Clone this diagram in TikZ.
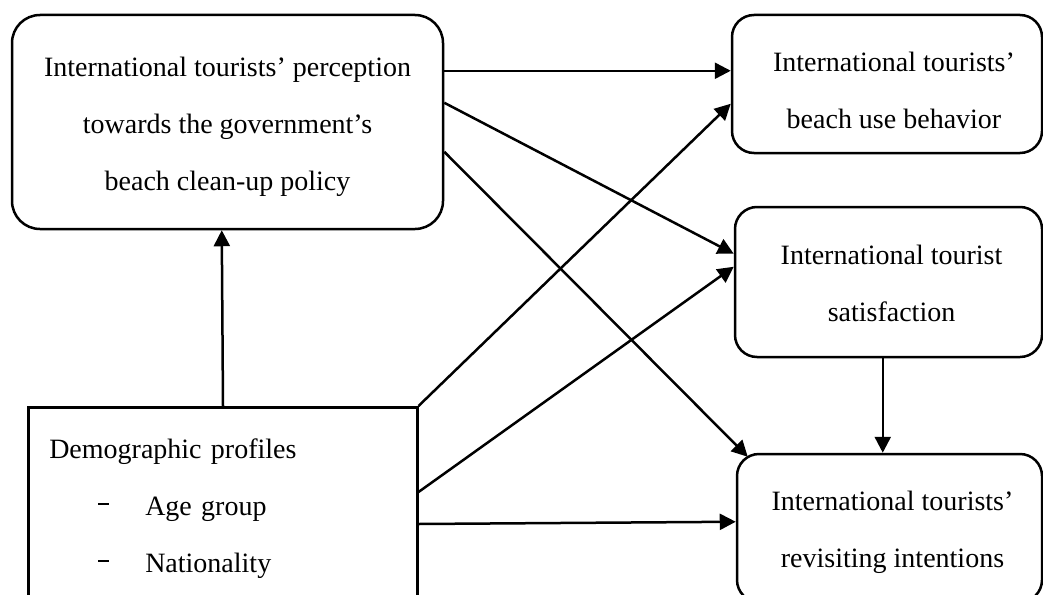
\documentclass[tikz,border=0pt]{standalone}
\usepackage{fontspec}
\setmainfont{Liberation Serif}
\usetikzlibrary{arrows.meta,calc}
\newcommand\stx[1]{\begin{tabular}{@{}c@{}}#1\end{tabular}}
\newcommand\dtx[1]{\begin{tabular}{@{}l@{}}#1\end{tabular}}
\newcommand\bul{\hspace*{49pt}\rule[10pt]{11pt}{2.6pt}\hspace*{36pt}}
\begin{document}
\begin{tikzpicture}[x=1pt,y=-1pt,
  txt/.style={font=\fontsize{28}{57}\selectfont},
  rbox/.style={txt,draw,line width=2.5pt,rounded corners=22pt,inner sep=0pt},
  arr/.style={line width=2.5pt,-{Triangle[length=16pt,width=16pt]}}]
\useasboundingbox (0,0) rectangle (1043,594);
\clip (0,0) rectangle (1043,594);
\node[rbox,rounded corners=28pt,minimum width=431pt,minimum height=214pt] (perc) at (227.5,122)
  {\stx{International tourists’ perception\\towards the government’s\\beach clean-up policy}};
\node[rbox,minimum width=310pt,minimum height=138pt] (beh) at (887,84)
  {\stx{\rule{0pt}{49.9pt}\hspace*{14pt}International tourists’\\\hspace*{14pt}beach use behavior}};
\node[rbox,minimum width=307pt,minimum height=150pt] (sat) at (888.5,282)
  {\stx{\hspace*{6pt}International tourist\\\hspace*{6pt}satisfaction}};
\node[rbox,minimum width=305pt,minimum height=148pt] (rev) at (889.5,528)
  {\stx{\hspace*{6pt}International tourists’\\\hspace*{6pt}revisiting intentions}};
\node[txt,draw,line width=2.5pt,anchor=north west,inner sep=11pt,text width=367pt,align=left] (demo) at (27,406)
  {\hspace*{10pt}\dtx{Demographic profiles\\\bul Age group\\\bul Nationality}};
\draw[arr] ($(perc.north east)+(0,57)$) -- ($(beh.north west)+(0,57)$);
\draw[arr] ($(perc.north east)+(0,89)$) -- ($(sat.north west)+(0,48)$);
\draw[arr] ($(perc.north east)+(0,138)$) -- ($(rev.north west)+(12,4)$);
\draw[arr] (demo.north east) -- ($(beh.north west)+(0,90)$);
\draw[arr] ($(demo.north east)+(0,86)$) -- ($(sat.north west)+(0,61)$);
\draw[arr] ($(demo.north east)+(0,118)$) -- ($(rev.north west)+(0,69)$);
\draw[arr] ($(demo.north west)+(196,0)$) -- ($(perc.south west)+(211,0)$);
\draw[arr] ($(sat.south west)+(149,0)$) -- ($(rev.north west)+(147,0)$);
\end{tikzpicture}
\end{document}
